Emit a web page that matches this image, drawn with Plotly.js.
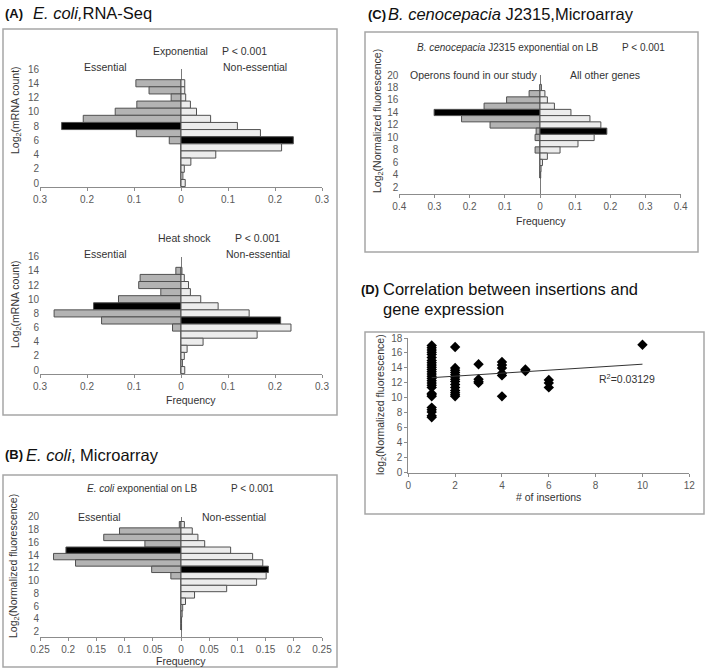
<!DOCTYPE html>
<html>
<head>
<meta charset="utf-8">
<script src="https://cdn.plot.ly/plotly-3.0.1.min.js"></script>
<style>html,body{margin:0;padding:0;background:#fff;}#chart{width:707px;height:668px;}</style>
</head>
<body>
<div id="chart"></div>
<script>
// ---------- DATA ----------
// (A) E. coli RNA-Seq, exponential
const aExpY = [14,13,12,11,10,9,8,7,6,5,4,3,2,1,0];
const aExpEssential    = [0.096,0.068,0.021,0.094,0.140,0.208,0.254,0.095,0.025,0,0,0,0,0,0];
const aExpNonEssential = [0.008,0.008,0.010,0.020,0.033,0.063,0.120,0.169,0.239,0.214,0.074,0.021,0.007,0.004,0.009];
const aExpEssentialMark = 8;     // highlighted (black) bin
const aExpNonEssentialMark = 6;
// (A) heat shock
const aHeatY = [14,13,12,11,10,9,8,7,6,5,4,3,2,1,0];
const aHeatEssential    = [0.011,0.087,0.090,0.043,0.133,0.186,0.270,0.169,0.018,0,0,0,0,0,0];
const aHeatNonEssential = [0.002,0.007,0.016,0.020,0.042,0.079,0.145,0.212,0.234,0.162,0.047,0.013,0.007,0.003,0.008];
const aHeatEssentialMark = 9;
const aHeatNonEssentialMark = 7;
// (B) E. coli microarray
const bY = [18.75,17.75,16.75,15.75,14.75,13.75,12.75,11.75,10.75,9.75,8.75,7.75,6.75,5.75,4.75,3.75,2.75];
const bEssential    = [0.003,0.109,0.137,0.064,0.204,0.226,0.187,0.052,0.018,0,0,0,0,0,0,0,0];
const bNonEssential = [0.006,0.020,0.030,0.042,0.088,0.127,0.145,0.155,0.151,0.134,0.081,0.024,0.008,0.003,0.002,0.001,0.001];
const bEssentialMark = 14.75;
const bNonEssentialMark = 11.75;
// (C) B. cenocepacia J2315 microarray
const cY = [18,17,16,15,14,13,12,11,10,9,8,7,6,5,4];
const cOperons   = [0,0.031,0.095,0.159,0.301,0.223,0.142,0.011,0.014,0,0.014,0,0,0,0];
const cOtherGenes = [0.004,0.014,0.021,0.041,0.088,0.142,0.173,0.190,0.154,0.108,0.057,0.021,0.007,0.003,0.002];
const cOperonsMark = 14;
const cOtherGenesMark = 11;
// (D) insertions vs expression
const dInsertions = [
  1,1,1,1,1,1,1,1,1,1,1,1,1,1,1,1,1,1,1,1,1,1,1,1,1,1,1,
  2,2,2,2,2,2,2,2,2,2,2,2,2,2,
  3,3,3,3,
  4,4,4,4,4,4,
  5,5,
  6,6,6,
  10];
const dFluorescence = [
  17.0,16.7,16.4,16.1,15.8,15.4,15.0,14.7,14.4,14.1,13.8,13.5,13.2,12.9,12.6,12.3,12.0,11.7,11.4,10.6,10.4,10.2,8.7,8.4,8.1,7.6,7.4,
  16.8,14.0,13.7,13.4,13.1,12.8,12.5,12.2,11.8,11.4,11.0,10.7,10.4,10.2,
  14.5,12.5,12.2,12.0,
  14.8,14.4,14.0,13.3,13.0,10.2,
  13.8,13.6,
  12.4,12.0,11.4,
  17.1];
const dTrendX = [1, 10];
const dTrendY = [12.7, 14.5];
const dR2Label = 'R<sup>2</sup>=0.03129';

// tick labels
const aTickVals = [-0.3,-0.2,-0.1,0,0.1,0.2,0.3];
const aTickText = ['0.3','0.2','0.1','0','0.1','0.2','0.3'];
const bTickVals = [-0.25,-0.2,-0.15,-0.1,-0.05,0,0.05,0.1,0.15,0.2,0.25];
const bTickText = ['0.25','0.2','0.15','0.1','0.05','0','0.05','0.1','0.15','0.2','0.25'];
const cTickVals = [-0.4,-0.3,-0.2,-0.1,0,0.1,0.2,0.3,0.4];
const cTickText = ['0.4','0.3','0.2','0.1','0','0.1','0.2','0.3','0.4'];
const aYTicks = [0,2,4,6,8,10,12,14,16];
const bcYTicks = [2,4,6,8,10,12,14,16,18,20];
const dXTicks = [0,2,4,6,8,10,12];
const dYTicks = [0,2,4,6,8,10,12,14,16,18];

// ---------- LAYOUT HELPERS ----------
const W = 707, H = 668;
const px = x => x / W;
const py = y => 1 - y / H;
const FONT = 'Liberation Sans, Arial, sans-serif';
const LEFT_FILL = '#b3b3b3', RIGHT_FILL = '#ececec', MARK_FILL = '#000000';
const OUTLINE = '#505050';

function sideTraces(yv, left, right, leftMark, rightMark, xa, ya) {
  return [
    {type:'bar', orientation:'h', y:yv, x:left.map(v => -v), width:1,
     marker:{color:yv.map(y => y === leftMark ? MARK_FILL : LEFT_FILL), line:{color:OUTLINE, width:1}},
     xaxis:xa, yaxis:ya, hoverinfo:'skip'},
    {type:'bar', orientation:'h', y:yv, x:right, width:1,
     marker:{color:yv.map(y => y === rightMark ? MARK_FILL : RIGHT_FILL), line:{color:OUTLINE, width:1}},
     xaxis:xa, yaxis:ya, hoverinfo:'skip'}
  ];
}

const traces = [].concat(
  sideTraces(aExpY, aExpEssential, aExpNonEssential, aExpEssentialMark, aExpNonEssentialMark, 'x', 'y'),
  sideTraces(aHeatY, aHeatEssential, aHeatNonEssential, aHeatEssentialMark, aHeatNonEssentialMark, 'x2', 'y2'),
  sideTraces(bY, bEssential, bNonEssential, bEssentialMark, bNonEssentialMark, 'x3', 'y3'),
  sideTraces(cY, cOperons, cOtherGenes, cOperonsMark, cOtherGenesMark, 'x4', 'y4'),
  [
    {type:'scatter', mode:'markers', x:dInsertions, y:dFluorescence,
     marker:{symbol:'diamond', size:8, color:'#000'}, xaxis:'x5', yaxis:'y5', hoverinfo:'skip'},
    {type:'scatter', mode:'lines', x:dTrendX, y:dTrendY,
     line:{color:'#333', width:1}, xaxis:'x5', yaxis:'y5', hoverinfo:'skip'}
  ]
);

const tickFont = {family:FONT, size:10, color:'#595959'};
function xAxisCfg(dom, range, vals, text, anchor) {
  return {domain:[px(dom[0]), px(dom[1])], range:range, anchor:anchor,
    tickvals:vals, ticktext:text, tickfont:tickFont,
    showline:true, linecolor:'#8c8c8c', linewidth:1,
    ticks:'outside', ticklen:3, tickcolor:'#8c8c8c',
    zeroline:true, zerolinecolor:'#7a7a7a', zerolinewidth:1,
    showgrid:false, fixedrange:true};
}
function yAxisCfg(top, bottom, range, vals, anchor) {
  return {domain:[py(bottom), py(top)], range:range, anchor:anchor,
    tickvals:vals, tickfont:tickFont, showline:false, zeroline:false,
    showgrid:false, ticks:'', fixedrange:true};
}

const textColor = '#333333';
function ann(text, x, y, size, opts) {
  return Object.assign({text:text, x:px(x), y:py(y), xref:'paper', yref:'paper',
    showarrow:false, xanchor:'center', yanchor:'middle',
    font:{family:FONT, size:size, color:textColor}}, opts || {});
}
const lab = 10.5;
const annotations = [
  // panel titles
  ann('<b>(A)</b>', 3, 13, 13, {xanchor:'left', font:{family:FONT, size:13, color:'#111'}}),
  ann('<i>E. coli,</i>RNA-Seq', 31, 13, 16.5, {xanchor:'left', font:{family:FONT, size:16.5, color:'#111'}}),
  ann('<b>(B)</b>', 3, 455, 13, {xanchor:'left', font:{family:FONT, size:13, color:'#111'}}),
  ann('<i>E. coli</i>, Microarray', 24, 455, 16.5, {xanchor:'left', font:{family:FONT, size:16.5, color:'#111'}}),
  ann('<b>(C)</b>', 366, 14, 13, {xanchor:'left', font:{family:FONT, size:13, color:'#111'}}),
  ann('<i>B. cenocepacia</i> J2315,Microarray', 386, 14, 16.5, {xanchor:'left', font:{family:FONT, size:16.5, color:'#111'}}),
  ann('<b>(D)</b>', 359, 289, 13, {xanchor:'left', font:{family:FONT, size:13, color:'#111'}}),
  ann('Correlation between insertions and', 381, 289, 16.5, {xanchor:'left', font:{family:FONT, size:16.5, color:'#111'}}),
  ann('gene expression', 381, 309, 16.5, {xanchor:'left', font:{family:FONT, size:16.5, color:'#111'}}),
  // A exponential
  ann('Exponential', 180, 51, lab),
  ann('P < 0.001', 245, 51, lab),
  ann('Essential', 105, 67, lab),
  ann('Non-essential', 255, 67, lab),
  ann('Log<sub>2</sub>(mRNA count)', 16, 110, lab, {textangle:-90}),
  // A heat shock
  ann('Heat shock', 184, 238, lab),
  ann('P < 0.001', 257, 238, lab),
  ann('Essential', 105, 254, lab),
  ann('Non-essential', 258, 254, lab),
  ann('Log<sub>2</sub>(mRNA count)', 16, 304, lab, {textangle:-90}),
  ann('Frequency', 191, 400, lab),
  // B
  ann('<i>E. coli</i> exponential on LB', 142, 488, 10),
  ann('P < 0.001', 252, 488, 10),
  ann('Essential', 99, 517, lab),
  ann('Non-essential', 234, 517, lab),
  ann('Log<sub>2</sub>(Normalized fluorescence)', 14, 566, lab, {textangle:-90}),
  ann('Frequency', 181, 660.5, lab),
  // C
  ann('<i>B. cenocepacia</i> J2315 exponential on LB', 508, 47, 10),
  ann('P < 0.001', 643, 47, 10),
  ann('Operons found in our study', 474, 75, lab),
  ann('All other genes', 605, 75, lab),
  ann('Log<sub>2</sub>(Normalized fluorescence)', 378, 121, lab, {textangle:-90}),
  ann('Frequency', 541, 221, lab),
  // D
  ann(dR2Label, 627, 378, lab),
  ann('# of insertions', 548, 497, lab),
  ann('log<sub>2</sub>(Normalized fluorescence)', 381, 404, lab, {textangle:-90})
];

function box(x0, y0, x1, y1) {
  return {type:'rect', xref:'paper', yref:'paper', x0:px(x0), x1:px(x1), y0:py(y1), y1:py(y0),
    line:{color:'#a6a6a6', width:1.5}, fillcolor:'rgba(0,0,0,0)', layer:'above'};
}

const layout = {
  width:W, height:H, margin:{l:0, r:0, t:0, b:0}, autosize:false,
  paper_bgcolor:'#ffffff', plot_bgcolor:'rgba(0,0,0,0)',
  showlegend:false, barmode:'overlay', bargap:0,
  font:{family:FONT, size:10, color:textColor},
  xaxis:  xAxisCfg([40,322], [-0.3,0.3], aTickVals, aTickText, 'y'),
  yaxis:  yAxisCfg(69, 187, [-0.56,16], aYTicks, 'x'),
  xaxis2: xAxisCfg([40,322], [-0.3,0.3], aTickVals, aTickText, 'y2'),
  yaxis2: yAxisCfg(256.7, 374, [-0.55,16], aYTicks, 'x2'),
  xaxis3: xAxisCfg([40,322], [-0.25,0.25], bTickVals, bTickText, 'y3'),
  yaxis3: yAxisCfg(516.7, 636.7, [1.2,20], bcYTicks, 'x3'),
  xaxis4: xAxisCfg([399.3,680.7], [-0.4,0.4], cTickVals, cTickText, 'y4'),
  yaxis4: yAxisCfg(75, 194, [0.95,20], bcYTicks, 'x4'),
  xaxis5: {domain:[px(408.3), px(689.3)], range:[0,12], anchor:'y5', tickvals:dXTicks,
    tickfont:tickFont, showline:true, linecolor:'#8c8c8c', ticks:'outside', ticklen:3,
    tickcolor:'#8c8c8c', zeroline:false, showgrid:false, fixedrange:true},
  yaxis5: {domain:[py(472.7), py(338)], range:[0,18], anchor:'x5', tickvals:dYTicks,
    tickfont:tickFont, showline:true, linecolor:'#8c8c8c', ticks:'outside', ticklen:3,
    tickcolor:'#8c8c8c', zeroline:false, showgrid:false, fixedrange:true},
  annotations:annotations,
  shapes:[box(3,29,337,415), box(3,475,337,667), box(365,32,698,252), box(365,332,704,514)]
};

Plotly.newPlot('chart', traces, layout, {staticPlot:true, displayModeBar:false});
</script>
</body>
</html>
